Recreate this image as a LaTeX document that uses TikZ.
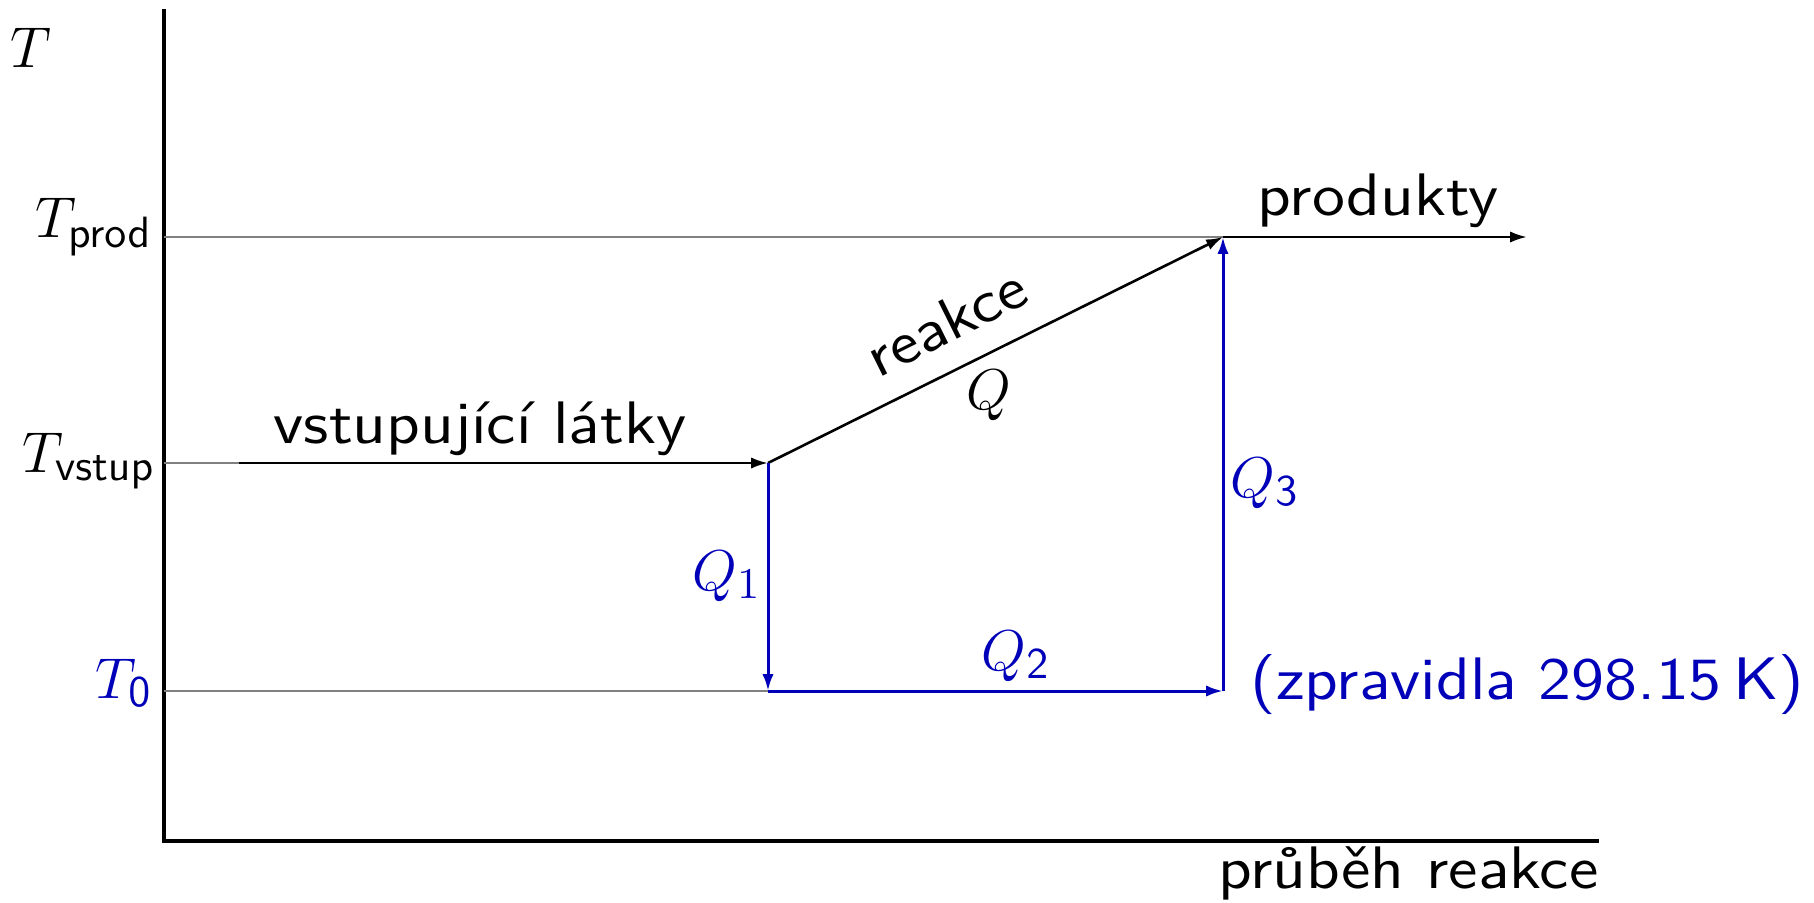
\documentclass[tikz,border=0pt]{standalone}
\usetikzlibrary{arrows.meta}
\definecolor{qblue}{RGB}{0,0,185}
\newcommand{\wtxt}[1]{\scalebox{1.12}[1]{#1}}
\begin{document}
\begin{tikzpicture}[x=0.25pt,y=-0.25pt,
  every node/.style={font=\fontsize{15}{18}\selectfont\sffamily, inner sep=0pt},
  axis/.style={line width=1pt},
  guide/.style={line width=0.5pt, draw=black!50},
  flow/.style={line width=0.65pt, -{Latex[length=4.2pt,width=2.8pt]}},
  heat/.style={line width=0.75pt, draw=qblue, -{Latex[length=4.2pt,width=2.8pt]}},
  bl/.style={text=qblue}]
\useasboundingbox (0,0) rectangle (1814,902);
% coordinates
\coordinate (top) at (164,9);
\coordinate (O) at (164,841);
\coordinate (xend) at (1599,841);
\coordinate (yp) at (164,237);
\coordinate (yv) at (164,463);
\coordinate (y0) at (164,691);
\coordinate (vs) at (239,463);
\coordinate (A) at (768,463);
\coordinate (B) at (1223,237);
\coordinate (C) at (768,691);
\coordinate (D) at (1223,691);
\coordinate (P) at (1527,237);
% axes
\draw[axis] (top) -- (O) -- (xend);
% guides
\draw[guide] (yp) -- (B);
\draw[guide] (yv) -- (vs);
\draw[guide] (y0) -- (C);
% process
\draw[flow] (vs) -- (A);
\draw[flow] (A) -- (B);
\draw[flow] (B) -- (P);
\draw[heat] (A) -- (C);
\draw[heat] (C) -- (D);
\draw[heat] (D) -- (B);
% labels
\node (lT) at (31,48) {$T$};
\node[anchor=base east] (lTp) at (153,237) {$T_{\mathsf{prod}}$};
\node[anchor=base east] (lTv) at (156,472) {$T_{\mathsf{vstup}}$};
\node[anchor=base east, bl] (lT0) at (153,698) {$T_{\mathsf{0}}$};
\node[anchor=base] (lvs) at (480,443) {\wtxt{vstupující látky}};
\node[anchor=base] (lpr) at (1378,215) {\wtxt{produkty}};
\node[anchor=base, rotate=26.4] (lre) at (955,340) {\wtxt{reakce}};
\node (lQ) at (989,395) {$Q$};
\node[anchor=base east, bl] (lQ1) at (762,590) {$Q_1$};
\node[anchor=base, bl] (lQ2) at (1016,670) {$Q_{\mathsf{2}}$};
\node[anchor=base west, bl] (lQ3) at (1230,497) {$Q_{\mathsf{3}}$};
\node[anchor=base west, bl] (lzp) at (1250,699) {\wtxt{(zpravidla 298.15\,K)}};
\node[anchor=base east] (lpb) at (1599,888) {\wtxt{průběh reakce}};
\end{tikzpicture}
\end{document}
